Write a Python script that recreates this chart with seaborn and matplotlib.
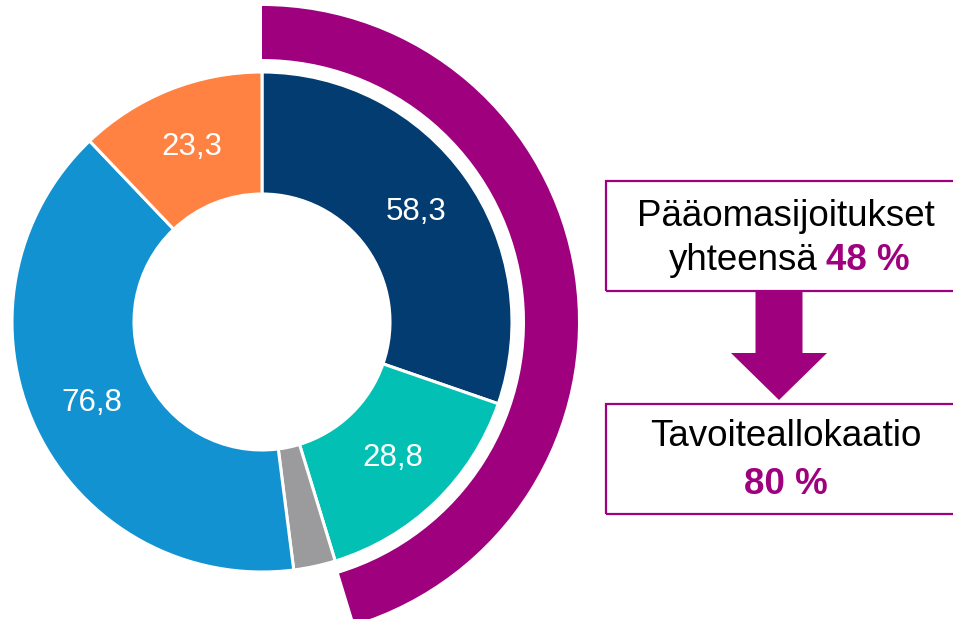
import matplotlib.pyplot as plt
import seaborn as sns
import numpy as np
from matplotlib.patches import Rectangle, FancyArrow

sns.set_theme(style="white")
plt.rcParams['font.family'] = ['Liberation Sans', 'DejaVu Sans']

# Data
values = [58.3, 28.8, 5.2, 76.8, 23.3]
labels = ['58,3', '28,8', '', '76,8', '23,3']
colors = ['#023C71', '#03C0B4', '#9B9B9D', '#1292D0', '#FF8243']
highlight_share = values[0] + values[1]
purple = '#9E007E'

W, H = 954, 619
fig = plt.figure(figsize=(W / 100, H / 100), dpi=100)
ax = fig.add_axes([0, 0, 1, 1])

cx, cy = 262, H - 322
total = sum(values)

# inner donut
wedges, _ = ax.pie(values, colors=colors, startangle=90, counterclock=False,
                   radius=250, center=(cx, cy),
                   wedgeprops=dict(width=122, edgecolor='white', linewidth=2.2))

# labels in the middle of each ring segment
cum = np.cumsum([0] + values)
for i, lab in enumerate(labels):
    if not lab:
        continue
    mid = (cum[i] + cum[i + 1]) / 2 / total * 360
    ang = np.deg2rad(90 - mid)
    r = 189
    ax.text(cx + r * np.cos(ang), cy + r * np.sin(ang), lab, color='white',
            fontsize=22.5, ha='center', va='center')

# outer purple arc
ax.pie([highlight_share, total - highlight_share], colors=[purple, 'none'],
       startangle=90, counterclock=False, radius=316, center=(cx, cy),
       wedgeprops=dict(width=53, linewidth=0))

# boxes on the right
for y0, y1 in [(181, 291), (404, 514)]:
    ax.add_patch(Rectangle((606, H - y1), 370, y1 - y0, fill=False,
                           edgecolor=purple, linewidth=1.6, clip_on=True))

ax.text(786, H - 217, 'Pääomasijoitukset', fontsize=26.5, ha='center',
        va='center', color='black')
ax.text(818, H - 260, 'yhteensä', fontsize=26.5, ha='right', va='center',
        color='black')
ax.text(826, H - 260, '48 %', fontsize=26.5, ha='left', va='center',
        color=purple, fontweight='bold')
ax.text(786, H - 437, 'Tavoiteallokaatio', fontsize=26.5, ha='center',
        va='center', color='black')
ax.text(786, H - 485, '80 %', fontsize=26.5, ha='center', va='center',
        color=purple, fontweight='bold')

# arrow between boxes
ax.add_patch(FancyArrow(779, H - 291, 0, -109, width=47, head_width=96,
                        head_length=47, length_includes_head=True,
                        color=purple, linewidth=0))

ax.set_xlim(0, W)
ax.set_ylim(0, H)
ax.set_aspect('equal')
ax.axis('off')

fig.savefig('out.png', dpi=100)
